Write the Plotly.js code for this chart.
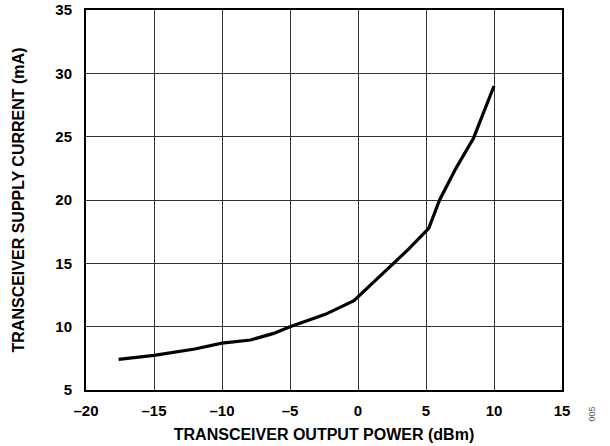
<!DOCTYPE html>
<html><head><meta charset="utf-8">
<script src="https://cdn.plot.ly/plotly-3.0.1.min.js"></script>
<style>html,body{margin:0;padding:0;background:#fff}#c{width:610px;height:446px}</style>
</head><body><div id="c"></div>
<script>
var powerDbm = [-17.6, -15.0, -12.0, -10.0, -7.9, -6.2, -5.0, -2.4, -0.3, 1.4, 3.7, 5.2, 6.0, 7.2, 8.5, 10.0];
var currentMa = [7.42, 7.74, 8.24, 8.7, 8.95, 9.47, 10.0, 10.97, 12.05, 13.8, 16.1, 17.76, 20.0, 22.5, 24.9, 29.0];
var xTickVals = [-20, -15, -10, -5, 0, 5, 10, 15];
var xTickText = ['\u201320', '\u201315', '\u201310', '\u20135', '0', '5', '10', '15'];
var yTickVals = [5, 10, 15, 20, 25, 30, 35];
var fnt = 'Liberation Sans, Arial, sans-serif';
Plotly.newPlot('c', [{
  x: powerDbm, y: currentMa, type: 'scatter', mode: 'lines',
  line: {color: '#000', width: 3.2}
}], {
  width: 610, height: 446,
  margin: {l: 86, r: 48, t: 10, b: 56},
  paper_bgcolor: '#fff', plot_bgcolor: '#fff',
  showlegend: false,
  font: {family: fnt, color: '#000'},
  xaxis: {
    range: [-20, 15], tickvals: xTickVals, ticktext: xTickText,
    showgrid: true, gridcolor: '#333', gridwidth: 1,
    showline: true, linecolor: '#000', linewidth: 2, mirror: true,
    zeroline: false, ticks: '', ticklen: 0, ticklabelstandoff: 6,
    tickfont: {family: fnt, size: 15, color: '#000', weight: 'bold'},
    title: {text: 'TRANSCEIVER OUTPUT POWER (dBm)', font: {family: fnt, size: 16, color: '#000', weight: 'bold'}, standoff: 11}
  },
  yaxis: {
    range: [5, 35], tickvals: yTickVals,
    showgrid: true, gridcolor: '#333', gridwidth: 1,
    showline: true, linecolor: '#000', linewidth: 2, mirror: true,
    zeroline: false, ticks: '', ticklen: 0, ticklabelstandoff: 9,
    tickfont: {family: fnt, size: 15, color: '#000', weight: 'bold'},
    title: {text: 'TRANSCEIVER SUPPLY CURRENT (mA)', font: {family: fnt, size: 16, color: '#000', weight: 'bold'}, standoff: 27}
  },
  annotations: [{
    text: '005', xref: 'paper', yref: 'paper', x: 1.0, y: 0, xshift: 36, yshift: -34,
    showarrow: false, textangle: -90, font: {family: fnt, size: 9, color: '#555'}
  }]
}, {displayModeBar: false, staticPlot: true});
</script></body></html>
